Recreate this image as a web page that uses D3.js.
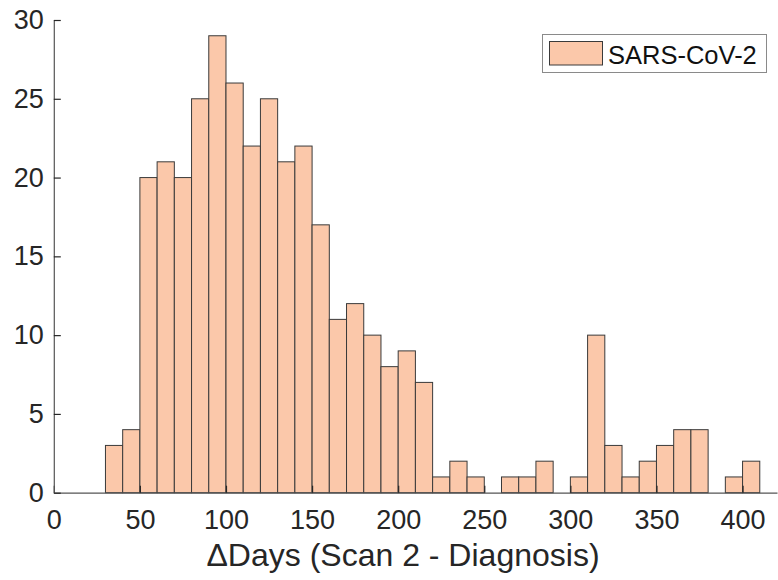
<!DOCTYPE html>
<html>
<head>
<meta charset="utf-8">
<script src="https://cdn.jsdelivr.net/npm/d3@7/dist/d3.min.js"></script>
<style>
  html, body { margin: 0; padding: 0; background: #fff; }
  svg { display: block; font-family: "Liberation Sans", Arial, Helvetica, sans-serif; }
</style>
</head>
<body>
<svg id="chart" width="778" height="580"></svg>
<script>
// Histogram bins: lower edge of each 10-day bin and its count
const binLower = [30, 40, 50, 60, 70, 80, 90, 100, 110, 120, 130, 140, 150, 160, 170, 180, 190,
                  200, 210, 220, 230, 240, 250, 260, 270, 280, 290, 300, 310, 320, 330, 340, 350,
                  360, 370, 380, 390, 400];
const counts = [3, 4, 20, 21, 20, 25, 29, 26, 22, 25, 21, 22, 17, 11, 12, 10, 8,
                9, 7, 1, 2, 1, 0, 1, 1, 2, 0, 1, 10, 3, 1, 2, 3,
                4, 4, 0, 1, 2];
const binWidth = 10;
const xTicks = [0, 50, 100, 150, 200, 250, 300, 350, 400];
const yTicks = [0, 5, 10, 15, 20, 25, 30];
const seriesName = "SARS-CoV-2";
const xLabel = "\u0394Days (Scan 2 - Diagnosis)";

const fillColor = "#fbc8aa";
const edgeColor = "#3a3a3a";
const axisColor = "#555555";

const svg = d3.select("#chart");

const x = d3.scaleLinear().domain([0, 420]).range([53.8, 777]);
const y = d3.scaleLinear().domain([0, 30]).range([492.7, 20]);

const bins = binLower.map((lo, i) => ({ lo, hi: lo + binWidth, n: counts[i] }));

// bars
svg.append("g")
  .selectAll("rect")
  .data(bins)
  .join("rect")
  .attr("x", d => x(d.lo))
  .attr("y", d => y(d.n))
  .attr("width", d => x(d.hi) - x(d.lo))
  .attr("height", d => y(0) - y(d.n))
  .attr("fill", fillColor)
  .attr("stroke", edgeColor)
  .attr("stroke-width", 1);

// axes (ticks point inward)
const xAxis = svg.append("g")
  .attr("transform", `translate(0,${y(0)})`)
  .call(d3.axisBottom(x).tickValues(xTicks).tickFormat(d3.format("d"))
    .tickSizeInner(-7).tickSizeOuter(0).tickPadding(17));

const yAxis = svg.append("g")
  .attr("transform", `translate(${x(0)},0)`)
  .call(d3.axisLeft(y).tickValues(yTicks).tickFormat(d3.format("d"))
    .tickSizeInner(-7).tickSizeOuter(0).tickPadding(10));

[xAxis, yAxis].forEach(g => {
  g.select(".domain").attr("stroke", axisColor).attr("stroke-width", 1.2);
  g.selectAll(".tick line").attr("stroke", "#262626").attr("stroke-width", 1.2);
  g.selectAll(".tick text")
    .attr("fill", "#262626")
    .style("font-size", "27px")
    .style("font-family", "'Liberation Sans', Arial, Helvetica, sans-serif");
});

// x-axis title
svg.append("text")
  .attr("x", 403)
  .attr("y", 566)
  .attr("text-anchor", "middle")
  .attr("fill", "#262626")
  .style("font-size", "32px")
  .text(xLabel);

// legend
const legend = svg.append("g");
legend.append("rect")
  .attr("x", 542.5).attr("y", 34.5)
  .attr("width", 224).attr("height", 38)
  .attr("fill", "#fff")
  .attr("stroke", "#8a8a8a")
  .attr("stroke-width", 1);
legend.append("rect")
  .attr("x", 549.5).attr("y", 41.5)
  .attr("width", 53).attr("height", 23.5)
  .attr("fill", fillColor)
  .attr("stroke", edgeColor)
  .attr("stroke-width", 1);
legend.append("text")
  .attr("x", 608).attr("y", 63.5)
  .attr("fill", "#111")
  .style("font-size", "25.5px")
  .text(seriesName);
</script>
</body>
</html>
